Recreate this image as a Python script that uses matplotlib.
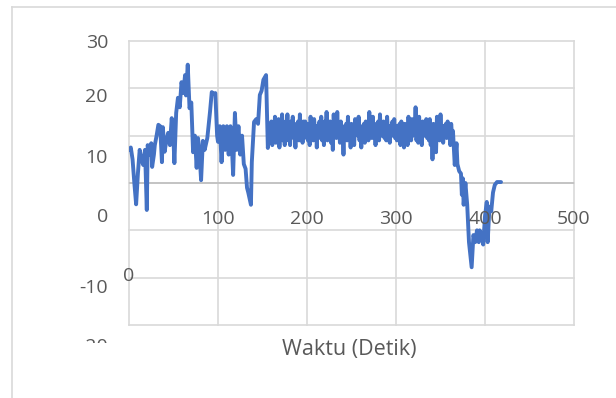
import matplotlib
matplotlib.use("Agg")
import matplotlib.pyplot as plt
from matplotlib.lines import Line2D
from matplotlib.patches import Rectangle

plt.rcParams['font.family'] = ['Open Sans', 'DejaVu Sans']

# ---- data (time in seconds, value) ----
t_start = [0, 2, 4, 6, 8, 10, 12, 14, 16, 18, 20, 21, 23, 25, 26, 28, 29, 31, 33, 35,
           37, 38, 40, 42, 44, 46, 48, 50, 51, 53, 55, 57, 59, 61, 63, 64, 66, 68, 70, 72,
           74, 76, 77.5, 79, 81, 83, 85, 88, 91, 93, 95, 97, 99, 100, 102, 104, 106, 108, 110, 112,
           114, 116, 117, 119, 121, 123, 125, 127, 129, 131, 132.6, 134, 137, 138, 140.5, 143, 145, 147, 149, 151,
           154, 156]
v_start = [7, 7.5, 5, 0, -4.5, 2, 7, 5, 3.8, 7, -5.7, 8, 6, 8.4, 3.4, 6, 8, 10, 12.3, 12,
           4.4, 11.8, 6.6, 9, 10.6, 8, 13.7, 9, 4.2, 14.8, 18, 16, 21.3, 19, 22.8, 18.5, 25, 15.8, 17, 6.5,
           10, 3.2, 9.5, 7, 0.6, 8.9, 7, 9.5, 15, 19.2, 18.8, 19, 10, 8.7, 12, 4.4, 12, 7, 12, 6,
           12, 6, 1.7, 14.8, 7, 12, 6, 10, 4, 3, -1, -2, -4.6, 4.4, 12.9, 13.5, 12.5, 18.6, 19.5, 21.8,
           22.8, 7.4]

# steady section, one reading per second from 158 s to 364 s
t_band = list(range(158, 365))
v_band = [12, 9, 13, 8, 12.5, 10, 14, 8.5, 12, 9, 13.5, 7.5, 11, 10, 14.5, 9, 12, 8, 13, 10,
          14.5, 9, 11.5, 8, 13, 10.5, 14, 9.5, 12, 7.5, 12.5, 10, 13, 9, 14.5, 10, 12, 8.5, 13, 9.5,
          13, 10, 12.5, 9, 12, 8, 14, 10, 13, 9, 13.5, 10.5, 12, 7.5, 12, 10, 13, 9.5, 14, 9,
          12.5, 8, 13, 10, 15, 9, 12.5, 10, 13, 8.5, 12, 7, 14.5, 10, 13, 9.5, 15, 10, 12.5, 8.5,
          13, 9, 11, 6, 12, 10, 12.5, 9, 14, 9.5, 12, 7.5, 12.5, 10, 12, 8, 13.5, 10.5, 12, 10,
          14, 9, 11.5, 7.5, 12, 10, 12.5, 8.5, 13, 10, 12, 9, 15, 10.5, 12.5, 9.5, 14, 10, 12, 8,
          12.5, 10, 13, 9, 14.5, 10, 12, 10, 13, 9.5, 12, 9, 14, 10.5, 12, 8.5, 12, 10, 13, 10,
          13.5, 9.5, 12, 9, 12, 10, 12.5, 8, 13, 10, 12, 7.5, 12.5, 9.5, 12, 8, 14, 10, 12.5, 9,
          13.5, 10, 12, 10.5, 16, 9, 12, 8.5, 14, 10, 12.5, 8, 13, 10, 12, 10, 13.5, 9.5, 12, 9,
          13.5, 8, 12, 5, 12.5, 9, 12, 6.5, 14, 10, 12, 9, 14.5, 10, 12, 8.5, 12, 10, 12.5, 9.5,
          13, 10, 12, 8, 12.5, 10, 11]

t_end = [366, 368, 369, 371, 373, 374, 375, 376, 378, 380, 382, 385, 387, 389, 391, 393, 394, 396, 398, 400,
         402, 403, 405, 407, 409, 411, 413.5, 418]
v_end = [3.8, 8.4, 4, 2.5, 2, -2.5, 1, -4.6, 0, -4.6, -12.5, -17.8, -11, -12.5, -10, -12.5, -10, -11, -13, -7,
         -4, -12.5, -5, -6, -2, -0.4, 0.2, 0.2]

time = t_start + t_band + t_end
value = v_start + v_band + v_end

x_ticks = [0, 100, 200, 300, 400, 500]
y_ticks = [-30, -20, -10, 0, 10, 20, 30]
y_tick_labels = [30, 20, 10, 0, -10, -20]
x_label = "Waktu (Detik)"

# ---- layout ----
W, H = 616, 398
fig = plt.figure(figsize=(W / 100, H / 100), dpi=100)
fig.patch.set_facecolor('white')

grid_c = '#d9d9d9'
text_c = '#595959'
fs = 14

# outer chart frame (partially visible)
fig.add_artist(Line2D([12 / W, 12 / W], [0, 1 - 7 / H], color=grid_c, lw=1.2))
fig.add_artist(Line2D([12 / W, 1], [1 - 7 / H, 1 - 7 / H], color=grid_c, lw=1.2))

left, right, top, bottom = 129, 574, 41, 325
ax = fig.add_axes([left / W, 1 - bottom / H, (right - left) / W, (bottom - top) / H])
ax.set_xlim(x_ticks[0], x_ticks[-1])
ax.set_ylim(y_ticks[0], y_ticks[-1])
for xv in x_ticks:
    ax.axvline(xv, color=grid_c, lw=1.2, zorder=1, clip_on=False)
for yv in y_ticks:
    ax.axhline(yv, color=grid_c, lw=1.2, zorder=1, clip_on=False)
ax.axhline(0, color='#bfbfbf', lw=1.2, zorder=1.5)
ax.plot(time, value, color='#4472C4', lw=2.8, solid_joinstyle='round',
        solid_capstyle='round', zorder=3)
ax.set_xticks([])
ax.set_yticks([])
for s in ax.spines.values():
    s.set_visible(False)

# y tick labels: the reference places them on their own (misaligned) spacing
ylabel_px = [43, 97, 158, 217, 288, 347]   # text centre rows in pixels (layout)
for lab, py in zip(y_tick_labels, ylabel_px):
    fig.text(108 / W, 1 - py / H, str(lab), fontsize=fs, color=text_c,
             ha='right', va='center')

# x tick labels, drawn above the lower gridlines
ax_x = fig.add_axes([left / W, 1 - 210 / H, (right - left) / W, 0.001])
ax_x.set_xlim(x_ticks[0], x_ticks[-1])
ax_x.set_xticks(x_ticks[1:])
ax_x.set_xticklabels([str(v) for v in x_ticks[1:]], fontsize=fs, color=text_c)
ax_x.tick_params(axis='x', length=0, pad=0)
ax_x.set_yticks([])
ax_x.patch.set_visible(False)
for s in ax_x.spines.values():
    s.set_visible(False)

# the displaced "0" x label
fig.text(left / W, 1 - 276 / H, str(x_ticks[0]), fontsize=fs, color=text_c,
         ha='center', va='center')

# axis title
fig.text(349 / W, 1 - 350 / H, x_label, fontsize=15.5, color=text_c,
         ha='center', va='center')

# clip the bottom y label as in the reference
fig.add_artist(Rectangle((60 / W, 1 - 362 / H), 60 / W, 19 / H, transform=fig.transFigure,
                         facecolor='white', edgecolor='none', zorder=10))

fig.savefig('out.png', dpi=100)
